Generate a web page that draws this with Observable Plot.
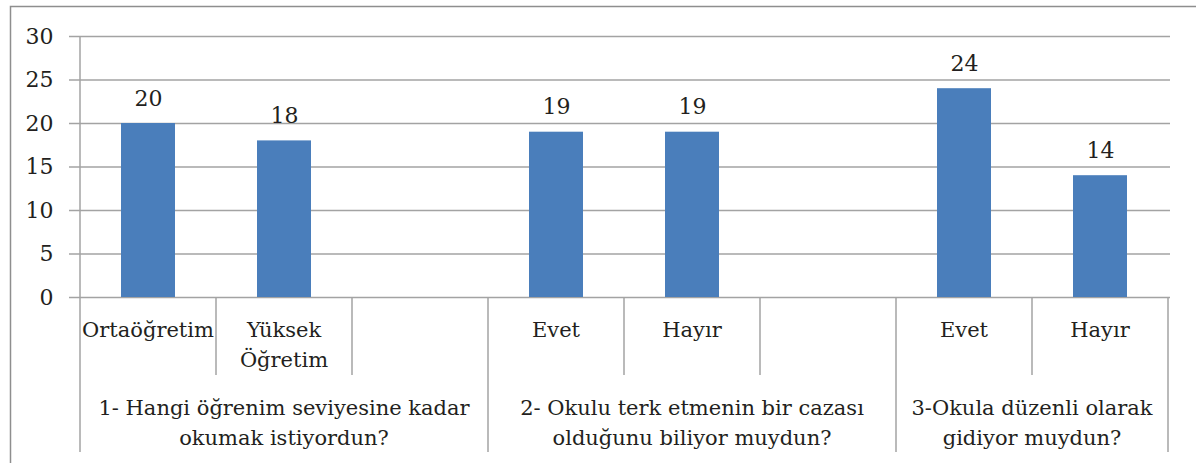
<!DOCTYPE html>
<html>
<head>
<meta charset="utf-8">
<script src="https://cdn.jsdelivr.net/npm/d3@7"></script>
<script src="https://cdn.jsdelivr.net/npm/@observablehq/plot@0.6"></script>
<style>
  html, body { margin: 0; padding: 0; background: #ffffff; }
  #chart svg { display: block; }
  #chart svg, #chart svg text { font-family: "DejaVu Serif", serif !important; }
</style>
</head>
<body>
<div id="chart"></div>
<script>
// ---- data ----
const slotIds = ["s0", "s1", "s2", "s3", "s4", "s5", "s6", "s7"];
const categoryLabels = ["Ortaöğretim", "Yüksek\nÖğretim", "", "Evet", "Hayır", "", "Evet", "Hayır"];
const values = [20, 18, null, 19, 19, null, 24, 14];
const groupLabels = [
  "1- Hangi öğrenim seviyesine kadar\nokumak istiyordun?",
  "2- Okulu terk etmenin bir cazası\nolduğunu biliyor muydun?",
  "3-Okula düzenli olarak\ngidiyor muydun?"
];
const groupStart = [0, 3, 6];
const groupEnd = [2, 5, 7];
const yTicks = [0, 5, 10, 15, 20, 25, 30];

const data = slotIds.map((id, i) => ({id, label: categoryLabels[i], value: values[i]}));
const barData = data.filter(d => d.value != null);

const FONT = "DejaVu Serif";
const FS = 22;
const FS_CAT = 21;
const GRID = "#a3a3a3";
const TEXT = "#231f20";

function outerBorder(index, scales, values, dimensions) {
  const {width, height} = dimensions;
  const g = d3.create("svg:g");
  g.append("path")
    .attr("d", `M10.5,${height} V6.5 H${width}`)
    .attr("fill", "none")
    .attr("stroke", "#8e8e8e")
    .attr("stroke-width", 1.5);
  return g.node();
}

function categoryAxis(index, scales, values, dimensions) {
  const x = scales.x;
  const y = scales.y;
  const step = x(slotIds[1]) - x(slotIds[0]);
  const x0 = s => x(slotIds[s]);
  const bottom = y(0);
  const level1 = bottom + 78;
  const level2 = bottom + 155;
  const g = d3.create("svg:g")
    .attr("font-size", FS_CAT)
    .attr("fill", TEXT)
    .attr("text-anchor", "middle");
  const lines = g.append("g").attr("stroke", GRID).attr("stroke-width", 1.5);
  lines.append("line").attr("x1", x0(0)).attr("x2", x0(0))
    .attr("y1", y(30)).attr("y2", level2);
  for (let s = 1; s <= slotIds.length; s++) {
    const xp = s < slotIds.length ? x0(s) : x0(s - 1) + step;
    const isGroup = groupEnd.includes(s - 1);
    lines.append("line").attr("x1", xp).attr("x2", xp)
      .attr("y1", bottom).attr("y2", isGroup ? level2 : level1);
  }
  data.forEach((d, i) => {
    if (!d.label) return;
    const t = g.append("text");
    d.label.split("\n").forEach((ln, k) => {
      t.append("tspan").attr("x", x0(i) + step / 2).attr("y", bottom + 40 + k * 30).text(ln);
    });
  });
  groupLabels.forEach((lab, gI) => {
    const cx = (x0(groupStart[gI]) + x0(groupEnd[gI]) + step) / 2;
    const t = g.append("text");
    lab.split("\n").forEach((ln, k) => {
      t.append("tspan").attr("x", cx).attr("y", bottom + 118 + k * 30).text(ln);
    });
  });
  return g.node();
}

const chart = Plot.plot({
  width: 1196,
  height: 463,
  marginLeft: 77,
  marginRight: 26,
  marginTop: 36,
  marginBottom: 166,
  style: {fontFamily: FONT, fontSize: FS + "px", color: TEXT, background: "#ffffff", overflow: "visible"},
  x: {type: "band", domain: slotIds, padding: 0, axis: null},
  y: {domain: [0, 30], axis: null},
  marks: [
    outerBorder,
    Plot.ruleY(yTicks, {stroke: GRID, strokeWidth: 1.5}),
    Plot.axisY({ticks: yTicks, label: null, tickSize: 8, tickPadding: 16, stroke: GRID, strokeWidth: 1.5, fontSize: FS, fill: TEXT, tickFormat: d => String(d)}),
    Plot.barY(barData, {x: "id", y: "value", fill: "#4a7ebb", insetLeft: 41, insetRight: 41}),
    Plot.text(barData, {x: "id", y: "value", text: d => String(d.value), lineAnchor: "bottom", dy: -18, fill: TEXT, fontSize: FS}),
    categoryAxis
  ]
});
document.getElementById("chart").appendChild(chart);
</script>
</body>
</html>
